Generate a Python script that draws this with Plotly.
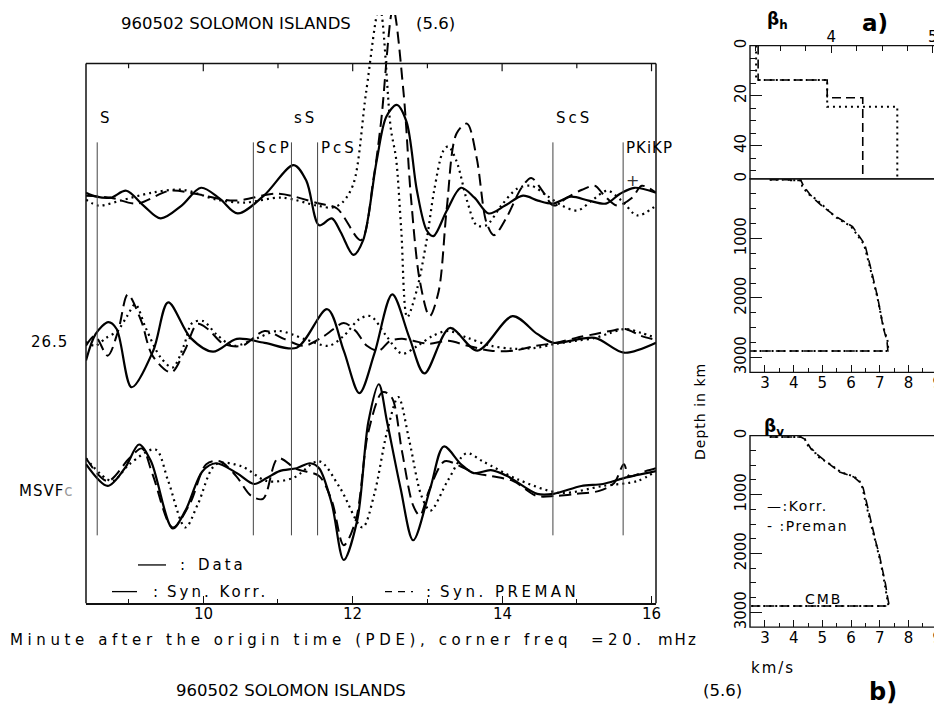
import plotly.graph_objects as go

W, H = 942, 711
FONT = "DejaVu Sans"


def fx(x):
    return x / W


def fy(y):
    return 1 - y / H


# ---------------- data: seismograms (time in minutes, amplitude) ----------------
phase_names = ["S", "ScP", "sS", "PcS", "ScS", "PKiKP"]
phase_times = [8.58, 10.67, 11.18, 11.53, 14.68, 15.62]
phase_row = [0, 1, 0, 1, 0, 1]
time_ticks = [10, 12, 14, 16]

# group 1 (top)
t_data1 = [8.43, 8.57, 8.76, 8.97, 9.20, 9.43, 9.71, 9.97, 10.22, 10.46, 10.81, 11.21, 11.38, 11.55,
           11.72, 11.84, 12.01, 12.14, 12.32, 12.45, 12.59, 12.72, 12.86, 12.99, 13.08, 13.26, 13.45,
           13.63, 13.82, 14.04, 14.28, 14.48, 14.68, 14.92, 15.16, 15.39, 15.58, 15.77, 16.06]
a_data1 = [5, 1, 0, 7, -8, -21, -8, 10, -1, -16, 2, 33, 17, -28, -21, -35, -58, -43, 37, 82, 94, 77, 7,
           -33, -39, -13, 10, 0, -16, -8, 2, -3, -6, 1, -3, -6, 4, 10, 5]
t_korr1 = [8.43, 8.76, 9.11, 9.55, 9.89, 10.41, 11.00, 11.55, 11.79, 12.11, 12.28, 12.38, 12.54, 12.68,
           12.78, 12.90, 13.03, 13.15, 13.26, 13.39, 13.53, 13.66, 13.79, 13.89, 14.06, 14.26, 14.39,
           14.53, 14.69, 14.87, 15.07, 15.24, 15.37, 15.54, 15.74, 15.87, 16.06]
a_korr1 = [2, 0, -6, 7, 4, -3, 4, -6, -11, -43, 20, 77, 192, 107, 0, -85, -120, -95, -10, 65, 75, 40,
           -25, -38, -20, 10, 20, 8, -8, 0, 8, 12, 2, -8, 0, 12, 5]
t_prem1 = [8.43, 8.60, 8.89, 9.31, 9.72, 10.18, 10.55, 11.05, 11.52, 11.73, 11.86, 12.01, 12.18, 12.36,
           12.51, 12.58, 12.65, 12.73, 12.86, 12.99, 13.09, 13.21, 13.28, 13.39, 13.53, 13.66, 13.79,
           13.99, 14.20, 14.39, 14.60, 14.80, 15.01, 15.20, 15.41, 15.60, 15.81, 16.06]
a_prem1 = [-2, -8, -3, 5, 8, -2, -5, 0, -8, -10, -5, 14, 107, 194, 70, 40, -33, -121, -93, -43, 7, 47,
           52, 37, -3, -28, -28, -8, 9, 12, 2, -8, -13, -3, 7, -3, -18, -8]

# group 2 (middle, 26.5)
t_data2 = [8.43, 8.56, 8.73, 8.84, 9.04, 9.33, 9.53, 9.83, 10.13, 10.45, 10.82, 11.25, 11.66, 11.88,
           12.09, 12.29, 12.53, 12.76, 12.96, 13.30, 13.67, 14.14, 14.47, 14.69, 15.24, 15.63, 16.06]
a_data2 = [-19, 8, 20, 13, -46, -9, 40, 4, -10, 3, -1, -6, 33, -9, -52, -12, 48, 4, -32, 14, -9, 26, 8,
           -1, 4, -11, -1]
t_korr2 = [8.43, 8.55, 8.72, 8.86, 8.99, 9.17, 9.32, 9.57, 9.75, 9.92, 10.06, 10.27, 10.52, 10.82,
           11.08, 11.35, 11.62, 11.88, 12.04, 12.19, 12.35, 12.50, 12.66, 12.81, 13.02, 13.28, 13.54,
           13.85, 14.15, 14.46, 14.72, 14.99, 15.25, 15.45, 15.65, 15.86, 16.06]
a_korr2 = [-4, 6, -14, 11, 48, 21, -14, -31, -9, 18, 13, -2, -4, 11, 3, -4, 6, 19, 11, -4, -9, 1, 3, 1,
           -2, 1, -4, -9, -9, -4, -1, 4, 8, 11, 13, 6, 2]
t_prem2 = [8.43, 8.55, 8.70, 8.85, 8.98, 9.09, 9.23, 9.43, 9.59, 9.74, 9.85, 10.00, 10.17, 10.40,
           10.70, 11.00, 11.35, 11.68, 11.88, 12.09, 12.24, 12.45, 12.66, 12.87, 13.07, 13.28, 13.54,
           13.85, 14.15, 14.46, 14.72, 14.99, 15.25, 15.45, 15.65, 15.86, 16.06]
a_prem2 = [0, -4, 4, 11, 26, 38, 14, -16, -26, -4, 19, 21, 8, -4, 3, 11, 3, -4, 6, 23, 26, 6, -12, -4,
           6, 11, 4, -4, -7, -6, -2, 1, 4, 9, 13, 9, 4]

# group 3 (bottom, MSVF)
t_data3 = [8.43, 8.72, 8.95, 9.14, 9.30, 9.59, 9.76, 9.99, 10.17, 10.45, 10.68, 10.85, 11.02, 11.25,
           11.43, 11.55, 11.72, 11.88, 12.06, 12.21, 12.35, 12.46, 12.64, 12.81, 13.04, 13.22, 13.45,
           13.62, 13.85, 14.07, 14.47, 14.69, 15.06, 15.35, 15.63, 16.06]
a_data3 = [27, 5, 23, 47, 30, -38, -20, 20, 28, 18, 7, 13, 20, 23, 28, 23, -13, -70, -30, 70, 108, 70, 3,
           -50, 3, 45, 27, 18, 21, 15, -3, -3, 5, 7, 13, 20]
t_korr3 = [8.43, 8.72, 9.01, 9.18, 9.32, 9.59, 9.82, 10.04, 10.22, 10.44, 10.64, 10.80, 11.00, 11.25,
           11.55, 11.72, 11.88, 12.04, 12.21, 12.40, 12.52, 12.66, 12.81, 12.90, 13.02, 13.23, 13.44,
           13.64, 13.85, 14.15, 14.46, 14.72, 14.99, 15.30, 15.50, 15.63, 15.70, 15.92, 16.06]
a_korr3 = [33, 10, 33, 43, 17, -37, -13, 27, 30, 15, -5, -8, 33, 22, 15, -10, -55, -30, 60, 100, 95, 40,
           -15, -25, 0, 30, 25, 18, 15, 10, -5, -5, -3, 0, 8, 27, 15, 20, 23]
t_prem3 = [8.43, 8.78, 9.01, 9.36, 9.53, 9.76, 9.93, 10.17, 10.51, 10.85, 11.20, 11.55, 11.83, 12.13,
           12.29, 12.46, 12.61, 12.76, 12.92, 13.04, 13.27, 13.52, 13.74, 14.20, 14.78, 15.35, 15.81, 16.06]
a_prem3 = [33, 10, 27, 42, 10, -37, -13, 27, 25, 10, 13, 30, 3, -37, -3, 60, 95, 50, -5, -20, 10, 38, 30,
           12, -2, 5, 10, 20]

group_labels = ["", "26.5", "MSVF"]

# ---------------- data: velocity models ----------------
depth_a_korr = [0, 13.7, 13.7, 20.8, 20.8, 53.2]
vel_a_korr = [3.28, 3.28, 3.96, 3.96, 4.31, 4.31]
depth_a_prem = [0, 13.7, 13.7, 24.4, 24.4, 53.2]
vel_a_prem = [3.26, 3.26, 3.96, 3.96, 4.65, 4.65]

depth_h = [0, 15, 15, 24, 24, 125, 250, 330, 480, 640, 800, 1100, 1530, 2000, 2500, 2720, 2891, 2891]
vel_h_prem = [3.2, 3.2, 3.9, 3.9, 4.25, 4.3, 4.5, 4.75, 5.1, 5.45, 6.0, 6.45, 6.68, 6.92, 7.13, 7.27, 7.3, 2.3]
vel_h_korr = [3.2, 3.2, 3.9, 3.9, 4.25, 4.35, 4.55, 4.7, 5.05, 5.5, 6.05, 6.48, 6.7, 6.93, 7.12, 7.25, 7.28, 2.3]

depth_v = [0, 24, 24, 63, 220, 254, 333, 492, 619, 698, 777, 888, 1127, 1460, 1841, 2016, 2317, 2524, 2714,
           2891, 2891]
vel_v_prem = [3.2, 3.2, 4.25, 4.39, 4.55, 4.74, 4.77, 5.29, 5.64, 6.12, 6.3, 6.4, 6.5, 6.68, 6.86, 6.96,
              7.1, 7.17, 7.24, 7.3, 2.3]
vel_v_korr = [3.2, 3.2, 4.25, 4.4, 4.6, 4.7, 4.85, 5.25, 5.6, 6.08, 6.27, 6.42, 6.53, 6.7, 6.88, 6.98,
              7.12, 7.2, 7.26, 7.33, 2.3]

# ---------------- layout geometry (pixels) ----------------
MX0, MX1, MY_TOP, MY_BOT = 78, 648, 49, 596
baselines = [185, 331, 482]
LINE_TOP, LINE_BOT = 129, 527

fig = go.Figure()

DASH_KORR = "12px,6px"
DASH_PREM = "2px,4px"

groups = [
    (t_data1, a_data1, t_korr1, a_korr1, t_prem1, a_prem1),
    (t_data2, a_data2, t_korr2, a_korr2, t_prem2, a_prem2),
    (t_data3, a_data3, t_korr3, a_korr3, t_prem3, a_prem3),
]
for gi, (td, ad, tk, ak, tp, ap) in enumerate(groups):
    b = -baselines[gi]
    fig.add_trace(go.Scatter(x=tp, y=[b + v for v in ap], mode="lines", xaxis="x", yaxis="y",
                             line=dict(color="black", width=2.2, dash=DASH_PREM, shape="spline", smoothing=0.9),
                             hoverinfo="skip"))
    fig.add_trace(go.Scatter(x=tk, y=[b + v for v in ak], mode="lines", xaxis="x", yaxis="y",
                             line=dict(color="black", width=2, dash=DASH_KORR, shape="spline", smoothing=0.9),
                             hoverinfo="skip"))
    fig.add_trace(go.Scatter(x=td, y=[b + v for v in ad], mode="lines", xaxis="x", yaxis="y",
                             line=dict(color="black", width=2.2, shape="spline", smoothing=0.9),
                             hoverinfo="skip"))

# right panels
PK = dict(color="black", width=1.6, dash="9px,5px")
PP = dict(color="black", width=2, dash="2px,4px")
fig.add_trace(go.Scatter(x=vel_a_korr, y=depth_a_korr, mode="lines", xaxis="x2", yaxis="y2", line=PK))
fig.add_trace(go.Scatter(x=vel_a_prem, y=depth_a_prem, mode="lines", xaxis="x2", yaxis="y2", line=PP))
fig.add_trace(go.Scatter(x=vel_h_korr, y=depth_h, mode="lines", xaxis="x3", yaxis="y3", line=PK))
fig.add_trace(go.Scatter(x=vel_h_prem, y=depth_h, mode="lines", xaxis="x3", yaxis="y3", line=PP))
fig.add_trace(go.Scatter(x=vel_v_korr, y=depth_v, mode="lines", xaxis="x4", yaxis="y4", line=PK))
fig.add_trace(go.Scatter(x=vel_v_prem, y=depth_v, mode="lines", xaxis="x4", yaxis="y4", line=PP))

shapes = []
LC = "#111"
# main frame (left, right, top)
for xd in (0, 1):
    shapes.append(dict(type="line", xref="x domain", yref="y", x0=xd, x1=xd, y0=-MY_TOP, y1=-MY_BOT,
                       line=dict(color=LC, width=1.5)))
shapes.append(dict(type="line", xref="x domain", yref="y", x0=0, x1=1, y0=-MY_TOP, y1=-MY_TOP,
                   line=dict(color=LC, width=1.5)))
for m in range(9, 17):
    ln = 8 if m % 2 == 0 else 5
    shapes.append(dict(type="line", xref="x", yref="y", x0=m, x1=m, y0=-MY_TOP, y1=-MY_TOP - ln,
                       line=dict(color=LC, width=1.2)))
# right panel frames
for k in (2, 3, 4):
    shapes.append(dict(type="rect", xref=f"x{k} domain", yref=f"y{k} domain", x0=0, x1=1, y0=0, y1=1,
                       line=dict(color=LC, width=1.4), fillcolor="rgba(0,0,0,0)"))
# phase lines
for tt in phase_times:
    shapes.append(dict(type="line", xref="x", yref="y", x0=tt, x1=tt, y0=-LINE_TOP, y1=-LINE_BOT,
                       line=dict(color="#444", width=1)))
# legend samples in main panel
LEG1, LEG2 = 557, 584
shapes.append(dict(type="line", xref="paper", yref="paper", x0=fx(130), x1=fx(158), y0=fy(LEG1), y1=fy(LEG1),
                   line=dict(color="black", width=1.3)))
shapes.append(dict(type="line", xref="paper", yref="paper", x0=fx(104), x1=fx(129), y0=fy(LEG2), y1=fy(LEG2),
                   line=dict(color="black", width=1.3)))
shapes.append(dict(type="line", xref="paper", yref="paper", x0=fx(377), x1=fx(405), y0=fy(LEG2), y1=fy(LEG2),
                   line=dict(color="black", width=1.3, dash="7px,6px")))


def sp(text, ls):
    return f"<span style='letter-spacing:{ls}px'>{text}</span>"


ann = []


def txt(x, y, text, size=15, xanchor="left", ls=0, angle=0, bold=False):
    t = sp(text, ls) if ls else text
    if bold:
        t = "<b>" + t + "</b>"
    ann.append(dict(x=fx(x), y=fy(y), xref="paper", yref="paper", text=t, showarrow=False,
                    xanchor=xanchor, yanchor="middle", textangle=angle,
                    font=dict(family=FONT, size=size, color="black")))


# titles
txt(111, 9, "960502 SOLOMON ISLANDS", 16.5)
txt(406, 9, "(5.6)", 16.5)
txt(166, 684, "960502 SOLOMON ISLANDS", 16.5)
txt(693, 684, "(5.6)", 16.5)
txt(0, 633, "Minute after the origin time (PDE), corner freq  =20.", 15, ls=4.6)
txt(648, 633, "mHz", 15, ls=2)

# main x tick labels (placed close under the axis, as in the original)
for v in time_ticks:
    ann.append(dict(x=v, y=fy(MY_BOT + 11), xref="x", yref="paper", text=str(v), showarrow=False,
                    xanchor="center", yanchor="middle",
                    font=dict(family=FONT, size=15, color="black")))

# group labels
txt(62, 331, group_labels[1], 15, xanchor="right", ls=1)
txt(68, 482, group_labels[2] + "<span style='color:#999'>c</span>", 15, xanchor="right", ls=1)

# phase labels
for name, tt, row in zip(phase_names, phase_times, phase_row):
    ann.append(dict(x=tt, y=-(104 if row == 0 else 135), xref="x", yref="y",
                    text=sp(name, 1 if len(name) > 3 else 3),
                    showarrow=False, xanchor="left", yanchor="middle", xshift=1,
                    font=dict(family=FONT, size=15, color="black")))
ann.append(dict(x=15.74, y=-168, xref="x", yref="y", text="+", showarrow=False,
                font=dict(family=FONT, size=16, color="#333")))

# legend text in main panel
txt(170, LEG1, ":", 15)
txt(188, LEG1, "Data", 15, ls=3)
txt(143, LEG2, ":", 15)
txt(157, LEG2, "Syn. Korr.", 15, ls=3)
txt(416, LEG2, ":", 15)
txt(430, LEG2, "Syn. PREMAN", 15, ls=3.5)

# right panel texts
txt(769, 6, "β<sub>h</sub>", 17, xanchor="center", bold=True)
txt(867, 8, "a)", 23, xanchor="center", bold=True)
txt(766, 418, "β<sub>v</sub>", 17, xanchor="center", bold=True)
txt(757, 497, "—:Korr.", 14, ls=1.5)
txt(757, 518, "- :Preman", 14, ls=1.5)
txt(795, 591, "CMB", 14, ls=2)
txt(692, 402, "Depth in km", 14, xanchor="center", angle=-90, ls=1)
txt(741, 661, "km/s", 15, ls=2)
txt(875, 686, "b)", 24, xanchor="center", bold=True)

tickfont = dict(family=FONT, size=15, color="black")
ax_common = dict(showgrid=False, zeroline=False, tickfont=tickfont, tickcolor=LC)
ax_main = dict(showline=True, linecolor=LC, linewidth=1.5, **ax_common)
ax_r = dict(showline=False, **ax_common)

RX0, RX1 = 742, 935
fig.update_layout(
    width=W, height=H, margin=dict(l=0, r=0, t=0, b=0),
    paper_bgcolor="white", plot_bgcolor="white", showlegend=False,
    font=dict(family=FONT, color="black"),
    xaxis=dict(domain=[fx(MX0), fx(MX1)], range=[8.43, 16.06], anchor="y", ticks="inside", ticklen=8,
               tickvals=time_ticks, showticklabels=False,
               minor=dict(ticks="inside", ticklen=5, dtick=1, tick0=10, tickcolor=LC), **ax_main),
    yaxis=dict(domain=[fy(MY_BOT), 1], range=[-MY_BOT, 0], visible=False),
    xaxis2=dict(domain=[fx(RX0), fx(RX1)], range=[3.2, 5.1], anchor="y2", side="top", ticks="inside",
                ticklen=7, tickvals=[4, 5],
                minor=dict(ticks="inside", ticklen=5, dtick=0.25, tick0=3, tickcolor=LC), **ax_r),
    yaxis2=dict(domain=[fy(166), fy(31)], range=[53.2, 0], anchor="x2", ticks="inside", ticklen=12,
                tickvals=[0, 20, 40], tickangle=-90,
                minor=dict(ticks="inside", ticklen=6, dtick=5, tickcolor=LC), **ax_r),
    xaxis3=dict(domain=[fx(RX0), fx(RX1)], range=[2.48, 9.2], anchor="y3", ticks="inside", ticklen=7,
                dtick=1, tick0=3,
                minor=dict(ticks="inside", ticklen=4, dtick=0.5, tickcolor=LC), **ax_r),
    yaxis3=dict(domain=[fy(362), fy(166)], range=[3250, 0], anchor="x3", ticks="inside", ticklen=12,
                dtick=1000, tick0=0, tickangle=-90,
                minor=dict(ticks="inside", ticklen=6, dtick=250, tickcolor=LC), **ax_r),
    xaxis4=dict(domain=[fx(RX0), fx(RX1)], range=[2.48, 9.2], anchor="y4", ticks="inside", ticklen=7,
                dtick=1, tick0=3,
                minor=dict(ticks="inside", ticklen=4, dtick=0.5, tickcolor=LC), **ax_r),
    yaxis4=dict(domain=[fy(620), fy(426)], range=[3250, 0], anchor="x4", ticks="inside", ticklen=12,
                dtick=1000, tick0=0, tickangle=-90,
                minor=dict(ticks="inside", ticklen=6, dtick=250, tickcolor=LC), **ax_r),
    shapes=shapes,
    annotations=ann,
)

fig.write_html("out.html")
